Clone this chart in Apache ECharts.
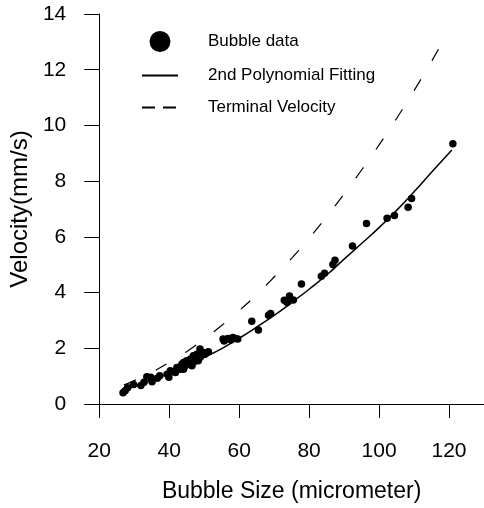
<!DOCTYPE html>
<html>
<head>
<meta charset="utf-8">
<script src="https://cdn.jsdelivr.net/npm/echarts@6/dist/echarts.min.js"></script>
<style>
html,body{margin:0;padding:0;background:#fff;}
#c{width:484px;height:508px;}
</style>
</head>
<body>
<div id="c"></div>
<script>
// Bubble data: [size (micrometer), velocity (mm/s)]
const bubbleData = [
  [26.8,0.40],[27.4,0.48],[28.1,0.58],[29.8,0.70],[31.9,0.66],[32.8,0.78],[33.6,0.98],[34.7,0.96],
  [35.1,0.80],[36.6,0.92],[37.3,1.01],[39.4,1.07],[39.9,0.96],[40.3,1.19],[41.3,1.16],[41.8,1.13],
  [42.2,1.31],[43.2,1.25],[43.6,1.43],[44.1,1.25],[44.1,1.49],[44.6,1.37],[45.0,1.55],[45.5,1.49],
  [46.0,1.61],[46.5,1.37],[46.9,1.49],[46.9,1.73],[47.9,1.79],[48.3,1.55],[48.8,1.67],[48.8,1.97],
  [49.3,1.85],[49.7,1.85],[50.2,1.79],[51.2,1.88],[55.4,2.33],[55.7,2.26],[56.8,2.35],[57.6,2.30],
  [58.2,2.39],[58.8,2.35],[59.6,2.33],[63.6,2.97],[65.5,2.66],[68.4,3.19],[69.0,3.25],[72.9,3.72],
  [73.7,3.64],[74.4,3.88],[75.5,3.73],[77.8,4.31],[83.5,4.59],[84.4,4.69],[86.8,5.01],[87.4,5.16],
  [92.4,5.67],[96.4,6.48],[102.3,6.67],[104.4,6.77],[108.3,7.06],[109.3,7.38],[121.1,9.34]
];
// 2nd polynomial fitting curve
const fitX = [27,30,35,40,45,50,55,60,65,70,75,80,85,90,95,100,105,110,115,120.8];
const fitV = [0.50,0.63,0.86,1.10,1.37,1.67,1.99,2.36,2.76,3.18,3.64,4.12,4.63,5.20,5.76,6.33,6.95,7.62,8.32,9.12];
// Terminal velocity curve
const termX = [27,30,35,40,45,50,55,60,65,70,75,80,85,90,95,100,105,110,115,120];
const termV = [0.68,0.84,1.14,1.49,1.88,2.33,2.82,3.35,3.93,4.56,5.23,5.95,6.72,7.54,8.40,9.30,10.25,11.25,12.30,13.40];

const xTicks = {min:20, max:130, interval:20};
const yTicks = {min:0, max:14, interval:2};

const fitData = fitX.map((x,i)=>[x,fitV[i]]);
const termData = termX.map((x,i)=>[x,termV[i]]);

const FONT = "'Liberation Sans', Arial, sans-serif";
const chart = echarts.init(document.getElementById('c'), null, {renderer:'canvas'});
chart.setOption({
  backgroundColor:'#fff',
  animation:false,
  grid:{left:98, right:-3, top:14, bottom:103, containLabel:false},
  legend:{
    orient:'vertical', left:136, top:26, itemWidth:36, itemHeight:21, itemGap:15,
    selectedMode:false,
    textStyle:{fontFamily:FONT, fontSize:17, color:'#000', padding:[0,0,0,25]},
    data:[
      {name:'Bubble data', icon:'circle', itemStyle:{color:'#000', opacity:1}},
      {name:'2nd Polynomial Fitting', itemStyle:{opacity:0}},
      {name:'Terminal Velocity', itemStyle:{opacity:0}, lineStyle:{type:[13,8]}}
    ]
  },
  xAxis:{
    type:'value', min:xTicks.min, max:xTicks.max, interval:xTicks.interval,
    name:'Bubble Size (micrometer)', nameLocation:'middle', nameGap:76,
    nameTextStyle:{fontFamily:FONT, fontSize:23, color:'#000'},
    axisLine:{show:true, onZero:false, lineStyle:{color:'#000', width:1}},
    axisTick:{show:true, inside:false, length:14, lineStyle:{color:'#000'}},
    axisLabel:{fontFamily:FONT, fontSize:21, color:'#000', margin:37, showMaxLabel:false},
    splitLine:{show:false}
  },
  yAxis:{
    type:'value', min:yTicks.min, max:yTicks.max, interval:yTicks.interval,
    name:'Velocity(mm/s)', nameLocation:'middle', nameGap:62,
    nameTextStyle:{fontFamily:FONT, fontSize:24, color:'#000'},
    axisLine:{show:true, onZero:false, lineStyle:{color:'#000', width:1}},
    axisTick:{show:true, inside:false, length:15, lineStyle:{color:'#000'}},
    axisLabel:{fontFamily:FONT, fontSize:21, color:'#000', margin:33},
    splitLine:{show:false}
  },
  series:[
    {name:'Bubble data', type:'scatter', data:bubbleData, symbol:'circle', symbolSize:7.5,
     itemStyle:{color:'#000', opacity:1}, z:3},
    {name:'2nd Polynomial Fitting', type:'line', data:fitData, smooth:true, symbol:'none',
     lineStyle:{color:'#000', width:1.5}, itemStyle:{color:'#000'}, z:2},
    {name:'Terminal Velocity', type:'line', data:termData, smooth:true, symbol:'none',
     lineStyle:{color:'#000', width:1.2, type:[13,22]}, itemStyle:{color:'#000'}, z:2}
  ]
});
</script>
</body>
</html>
